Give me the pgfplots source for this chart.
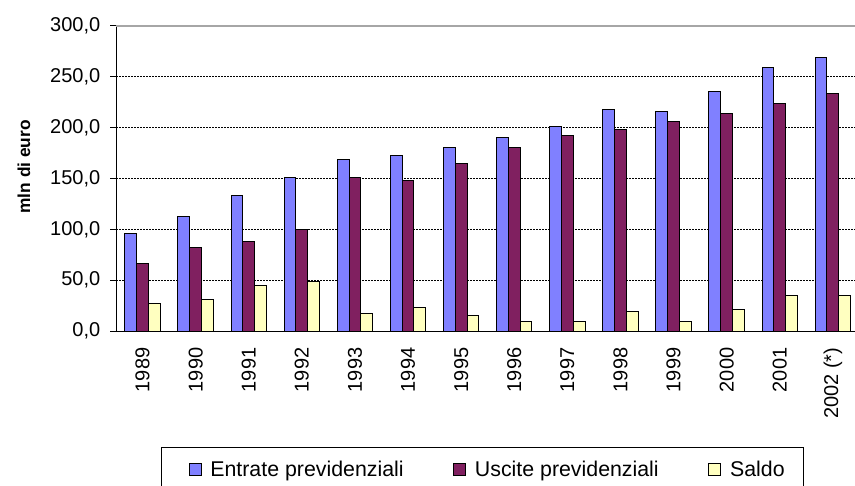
\documentclass[border=0pt]{standalone}
\usepackage{pgfplots}
\pgfplotsset{compat=1.18}
\usepackage{fontspec}
\setmainfont{Liberation Sans}

\definecolor{entrate}{HTML}{8080FF}
\definecolor{uscite}{HTML}{802060}
\definecolor{saldo}{HTML}{FFFFC0}

\begin{document}
\begin{tikzpicture}
\begin{axis}[
    at={(87pt,115.5pt)}, anchor=south west,
    scale only axis,
    width=557.55pt, height=228.75pt,
    xmin=-0.5, xmax=13.5,
    ymin=0, ymax=300,
    clip=false,
    axis x line*=bottom, axis y line*=left,
    axis line style={black, line width=0.75pt},
    tick style={black, line width=0.75pt},
    major tick length=4.5pt,
    tick align=outside,
    ytick={0,50,...,300},
    ymajorgrids,
    grid style={black, line width=0.6pt, dash pattern=on 1.5pt off 0.75pt},
    xtick={0,...,13},
    xticklabels={1989,1990,1991,1992,1993,1994,1995,1996,1997,1998,1999,2000,2001,2002 (*)},
    x tick style={draw=none},
    extra x ticks={-0.5,0.5,1.5,2.5,3.5,4.5,5.5,6.5,7.5,8.5,9.5,10.5,11.5,12.5,13.5},
    extra x tick style={xticklabel=\empty, tick style={draw=black, line width=0.75pt}},
    xticklabel shift=4.5pt,
    xticklabel style={rotate=90, anchor=east, font=\fontsize{15}{18}\selectfont},
    yticklabel style={font=\fontsize{15}{18}\selectfont, xshift=-3.75pt},
    /pgf/number format/fixed,
    /pgf/number format/fixed zerofill,
    /pgf/number format/precision=1,
    /pgf/number format/use comma,
    /pgf/number format/1000 sep={},
    /pgf/number format/assume math mode=true,
    ylabel={mln di euro},
    ylabel style={at={(axis description cs:-0.1238,0.538)}, anchor=center,
        font=\bfseries\fontsize{13}{15}\selectfont},
    legend columns=3,
    legend image code/.code={\path (0pt,0pt);
        \draw[#1, draw=black, line width=0.75pt] (9pt,-4.5pt) rectangle (18pt,4.5pt);},
    legend style={at={(axis description cs:0.0599,-0.3803)}, anchor=north west,
        draw=black, line width=0.75pt,
        font=\fontsize{16}{19}\selectfont,
        inner xsep=11.75pt, inner ysep=8pt,
        /tikz/every odd column/.append style={column sep=4.5pt},
        /tikz/every even column/.append style={column sep=26.25pt}},
]
\addplot[ybar, bar width=0.222, bar shift=-0.222, fill=entrate, draw=black, line width=0.75pt]
    coordinates {(0,96) (1,113) (2,133.5) (3,151) (4,168.5) (5,172.5) (6,180.5)
                 (7,190) (8,201.5) (9,217.5) (10,215.5) (11,235.5) (12,259) (13,269)};
\addplot[ybar, bar width=0.222, bar shift=0, fill=uscite, draw=black, line width=0.75pt]
    coordinates {(0,66) (1,82) (2,88) (3,99.5) (4,151) (5,148.5) (6,165)
                 (7,180) (8,192) (9,198) (10,206) (11,213.5) (12,223.5) (13,233.5)};
\addplot[ybar, bar width=0.222, bar shift=0.222, fill=saldo, draw=black, line width=0.75pt]
    coordinates {(0,27) (1,31) (2,44.5) (3,48.5) (4,17.5) (5,23.5) (6,15.5)
                 (7,9.5) (8,9.5) (9,19.5) (10,9.5) (11,21.5) (12,35) (13,35)};
\legend{Entrate previdenziali, Uscite previdenziali, Saldo}
\draw[gray!70, line width=1pt] (axis cs:-0.5,300) -- (axis cs:13.5,300);
\end{axis}
\pgfresetboundingbox
\useasboundingbox (0,0) rectangle (641.25pt,363.75pt);
\end{tikzpicture}
\end{document}
